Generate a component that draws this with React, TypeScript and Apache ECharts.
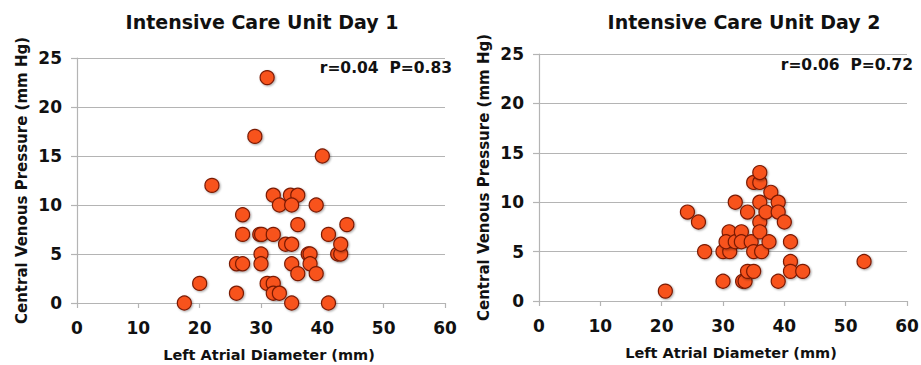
import React, { useEffect, useRef } from "react";
import * as echarts from "echarts";

// Day 1: [left atrial diameter (mm), central venous pressure (mm Hg)]
const day1Points: number[][] = [
  [17.5, 0], [20, 2], [22, 12], [26, 1], [26, 4], [27, 4], [27, 9], [27, 7],
  [29, 17], [29.8, 7], [30.1, 7], [30, 5], [30, 4], [31, 23], [31, 2], [32, 2],
  [32, 1], [33, 1], [32, 11], [32, 7], [33, 10], [34, 6], [35, 6], [34.8, 11],
  [36, 11], [35, 10], [36, 8], [35, 4], [36, 3], [35, 0], [37.7, 5], [38, 5],
  [38, 4], [39, 3], [39, 10], [40, 15], [41, 7], [41, 0], [42.5, 5], [43, 5],
  [43, 6], [44, 8],
];

// Day 2
const day2Points: number[][] = [
  [20.6, 1], [24.2, 9], [26, 8], [27, 5], [30, 5], [31.1, 5], [30, 2], [31, 7],
  [30.5, 6], [32, 6], [32, 10], [33, 7], [33, 6], [33.2, 2], [33.6, 2], [34, 9],
  [34, 3], [35, 3], [34.6, 6], [35, 5], [35, 12], [36, 12], [36, 13], [36, 10],
  [36, 8], [36, 7], [36.3, 5], [37, 9], [37.5, 6], [37.8, 11], [39, 10], [39, 9],
  [40, 8], [39, 2], [41, 6], [41, 4], [41, 3], [43, 3], [53, 4],
];

const chartTitles = ["Intensive Care Unit Day 1", "Intensive Care Unit Day 2"];
const statLabels = ["r=0.04  P=0.83", "r=0.06  P=0.72"];
const xAxisName = "Left Atrial Diameter (mm)";
const yAxisName = "Central Venous Pressure (mm Hg)";
const xTicks = { min: 0, max: 60, interval: 10 };
const yTicks = { min: 0, max: 25, interval: 5 };

const FONT = "DejaVu Sans";
const GRAY = "#b4b4b4";

export default function App() {
  const ref = useRef<HTMLDivElement>(null);

  useEffect(() => {
    if (!ref.current) return;
    const chart = echarts.init(ref.current, undefined, { renderer: "svg" });

    const grids = [
      { left: 77, top: 58, width: 368, height: 245, outerBoundsMode: "none", containLabel: false },
      { left: 539, top: 54, width: 368, height: 247, outerBoundsMode: "none", containLabel: false },
    ];

    const mkX = (gi: number) => ({
      type: "value",
      gridIndex: gi,
      min: xTicks.min,
      max: xTicks.max,
      interval: xTicks.interval,
      name: xAxisName,
      nameLocation: "middle",
      nameGap: 44,
      nameTextStyle: {
        fontFamily: FONT,
        fontWeight: "bold",
        fontSize: 14.5,
        color: "#111",
        padding: [0, 0, 0, 16],
      },
      axisLine: { show: true, lineStyle: { color: GRAY, width: 1.2 } },
      axisTick: { show: true, length: 5, lineStyle: { color: GRAY, width: 1.2 } },
      axisLabel: {
        fontFamily: FONT,
        fontWeight: "bold",
        fontSize: 17,
        color: "#111",
        margin: 16,
      },
      splitLine: { show: false },
    });

    const mkY = (gi: number) => ({
      type: "value",
      gridIndex: gi,
      min: yTicks.min,
      max: yTicks.max,
      interval: yTicks.interval,
      name: yAxisName,
      nameLocation: "middle",
      nameGap: 48,
      nameTextStyle: {
        fontFamily: FONT,
        fontWeight: "bold",
        fontSize: 15,
        color: "#111",
      },
      axisLine: { show: true, lineStyle: { color: GRAY, width: 1.2 } },
      axisTick: { show: true, length: 6, lineStyle: { color: GRAY, width: 1.2 } },
      axisLabel: {
        fontFamily: FONT,
        fontWeight: "bold",
        fontSize: 17,
        color: "#111",
        margin: 15,
      },
      splitLine: { show: true, lineStyle: { color: GRAY, width: 1.2 } },
    });

    const mkSeries = (gi: number, data: number[][]) => ({
      type: "scatter",
      xAxisIndex: gi,
      yAxisIndex: gi,
      data,
      symbol: "circle",
      symbolSize: 14,
      itemStyle: {
        color: "#f8521f",
        borderColor: "#7a1a05",
        borderWidth: 1.2,
        opacity: 1,
        shadowBlur: 2,
        shadowColor: "rgba(0,0,0,0.35)",
        shadowOffsetX: 1,
        shadowOffsetY: 1,
      },
      emphasis: { disabled: true },
    });

    const titleCenters = [262, 744];
    const statRights = [452, 913];
    const statYs = [68, 65];

    chart.setOption({
      animation: false,
      grid: grids,
      xAxis: [mkX(0), mkX(1)],
      yAxis: [mkY(0), mkY(1)],
      series: [mkSeries(0, day1Points), mkSeries(1, day2Points)],
      graphic: [
        ...chartTitles.map((t, i) => ({
          type: "text",
          x: titleCenters[i],
          y: 22,
          style: {
            text: t,
            fontFamily: FONT,
            fontWeight: "bold",
            fontSize: 19,
            fill: "#111",
            textAlign: "center",
            textVerticalAlign: "middle",
          },
        })),
        ...statLabels.map((t, i) => ({
          type: "text",
          x: statRights[i],
          y: statYs[i],
          style: {
            text: t,
            fontFamily: FONT,
            fontWeight: "bold",
            fontSize: 15.5,
            fill: "#111",
            textAlign: "right",
            textVerticalAlign: "middle",
          },
        })),
      ],
    });

    return () => chart.dispose();
  }, []);

  return (
    <div
      ref={ref}
      style={{ position: "fixed", left: 0, top: 0, width: 921, height: 365, background: "#fff" }}
    />
  );
}
